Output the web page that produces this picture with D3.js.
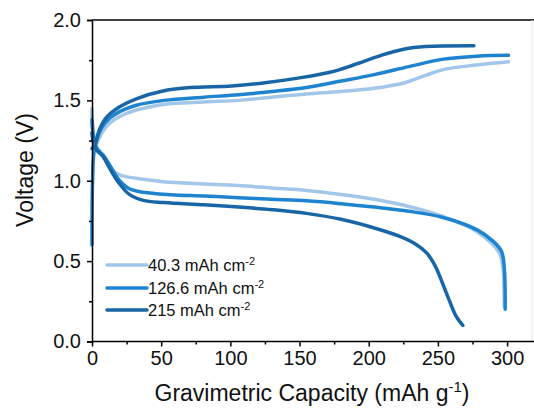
<!DOCTYPE html>
<html>
<head>
<meta charset="utf-8">
<script src="https://cdn.jsdelivr.net/npm/d3@7"></script>
<style>
  body { margin: 0; background: #fff; }
  text { font-family: Arial, "Liberation Sans", sans-serif; }
</style>
</head>
<body>
<div id="chart"></div>
<script>
// series labels (areal capacity)
var seriesNames = ["40.3", "126.6", "215"];
var seriesColors = ["#a3c7e9", "#1f84d0", "#1866a6"];

// charge branches [capacity mAh/g, voltage V]
var chargeLight = [[0, 1.45], [0.6, 1.3], [2, 1.22], [5, 1.26], [8, 1.31], [13, 1.36], [20, 1.40], [32, 1.44], [52, 1.475], [81, 1.49],
  [106, 1.50], [130, 1.52], [155, 1.54], [180, 1.555], [204, 1.575], [226, 1.61], [241, 1.655], [253, 1.69], [278, 1.72], [301, 1.74]];
var chargeMedium = [[0, 0.6], [0.4, 1.0], [1.5, 1.18], [4, 1.27], [7, 1.33], [13, 1.39], [20, 1.43], [32, 1.47], [52, 1.50], [81, 1.52],
  [106, 1.535], [130, 1.555], [155, 1.58], [180, 1.62], [204, 1.66], [229, 1.71], [253, 1.755], [278, 1.775], [301, 1.78]];
var chargeDark = [[0, 1.2], [2, 1.22], [5, 1.31], [10, 1.39], [20, 1.46], [32, 1.51], [52, 1.56], [71, 1.58], [101, 1.59],
  [125, 1.61], [150, 1.64], [172, 1.675], [189, 1.72], [209, 1.78], [226, 1.82], [241, 1.835], [276, 1.84]];

// discharge branches
var dischargeLight = [[0, 1.42], [1, 1.3], [3.5, 1.21], [8, 1.16], [12, 1.10], [17, 1.05], [22, 1.03], [37, 1.01], [57, 0.99], [81, 0.98],
  [106, 0.97], [130, 0.955], [155, 0.94], [180, 0.915], [204, 0.885], [229, 0.84], [253, 0.78], [278, 0.685], [290, 0.60],
  [295, 0.54], [297, 0.455], [298, 0.22]];
var dischargeMedium = [[0, 1.38], [1, 1.28], [3.5, 1.2], [8, 1.16], [12, 1.11], [16, 1.05], [20, 1.0], [27, 0.95], [37, 0.928], [57, 0.913],
  [81, 0.905], [106, 0.895], [130, 0.885], [155, 0.875], [180, 0.857], [204, 0.836], [229, 0.81], [253, 0.773], [278, 0.696],
  [290, 0.623], [296, 0.56], [298, 0.455], [298.6, 0.2]];
var dischargeDark = [[0, 1.3], [1, 1.24], [3.5, 1.19], [8, 1.15], [12, 1.09], [16, 1.03], [20, 0.98], [27, 0.915], [37, 0.878], [52, 0.864],
  [81, 0.85], [106, 0.836], [130, 0.82], [155, 0.797], [180, 0.76], [204, 0.706], [222, 0.655], [234, 0.605], [242, 0.55],
  [248, 0.47], [253, 0.37], [258, 0.26], [263, 0.16], [268, 0.10]];

var xTicks = [0, 50, 100, 150, 200, 250, 300];
var xMinorTicks = [25, 75, 125, 175, 225, 275];
var yTicks = [0.0, 0.5, 1.0, 1.5, 2.0];
var yMinorTicks = [0.25, 0.75, 1.25, 1.75];

drawChart();

function drawChart() {
  var w = 534, h = 412;
  var mLeft = 92, mRight = 532, mTop = 20, mBottom = 341.5;

  var svg = d3.select("#chart").append("svg")
    .attr("width", w)
    .attr("height", h);

  var x = d3.scaleLinear().domain([0, 318]).range([mLeft, mRight]);
  var y = d3.scaleLinear().domain([0, 2]).range([mBottom, mTop]);

  // frame (top + faint right)
  svg.append("line").attr("x1", mLeft).attr("x2", w).attr("y1", mTop).attr("y2", mTop)
    .attr("stroke", "#000").attr("stroke-width", 1.5);
  svg.append("line").attr("x1", mRight).attr("x2", mRight).attr("y1", mTop).attr("y2", mBottom)
    .attr("stroke", "#e6e6e6").attr("stroke-width", 1);

  var line = d3.line()
    .x(function(d) { return x(d[0]); })
    .y(function(d) { return y(d[1]); })
    .curve(d3.curveCatmullRom.alpha(0.5));

  var curves = [
    [chargeLight, dischargeLight],
    [chargeMedium, dischargeMedium],
    [chargeDark, dischargeDark]
  ];

  curves.forEach(function(pair, i) {
    pair.forEach(function(data) {
      svg.append("path")
        .datum(data)
        .attr("d", line)
        .attr("fill", "none")
        .attr("stroke", seriesColors[i])
        .attr("stroke-width", 3.5)
        .attr("stroke-linecap", "round")
        .attr("stroke-linejoin", "round");
    });
  });

  // axes
  var xAxis = svg.append("g")
    .attr("transform", "translate(0," + mBottom + ")")
    .call(d3.axisBottom(x).tickValues(xTicks).tickSize(5).tickPadding(4).tickFormat(d3.format("d")));
  var xMinor = svg.append("g")
    .attr("transform", "translate(0," + mBottom + ")")
    .call(d3.axisBottom(x).tickValues(xMinorTicks).tickSize(3).tickFormat(""));

  var yAxis = svg.append("g")
    .attr("transform", "translate(" + mLeft + ",0)")
    .call(d3.axisLeft(y).tickValues(yTicks).tickSize(5).tickPadding(6).tickFormat(d3.format(".1f")));
  var yMinor = svg.append("g")
    .attr("transform", "translate(" + mLeft + ",0)")
    .call(d3.axisLeft(y).tickValues(yMinorTicks).tickSize(3).tickFormat(""));

  [xAxis, xMinor, yAxis, yMinor].forEach(function(g) {
    g.select(".domain").attr("stroke", "#000").attr("stroke-width", 1.5);
    g.selectAll(".tick line").attr("stroke", "#000").attr("stroke-width", 1.5);
    g.selectAll(".tick text").attr("font-size", 20).attr("fill", "#111")
      .style("font-family", "Arial, 'Liberation Sans', sans-serif");
  });
  xAxis.select(".domain").attr("d", "M" + mLeft + ",0H" + w);
  xMinor.select(".domain").remove();
  yMinor.select(".domain").remove();

  // axis titles
  var xt = svg.append("text")
    .attr("x", (mLeft + mRight) / 2)
    .attr("y", 401)
    .attr("text-anchor", "middle")
    .attr("font-size", 23)
    .attr("fill", "#111");
  xt.append("tspan").text("Gravimetric Capacity (mAh g");
  xt.append("tspan").attr("dy", -9).attr("font-size", 15).text("-1");
  xt.append("tspan").attr("dy", 9).text(")");

  svg.append("text")
    .attr("transform", "translate(33,170) rotate(-90)")
    .attr("text-anchor", "middle")
    .attr("font-size", 23)
    .attr("fill", "#111")
    .text("Voltage (V)");

  // legend
  var legendY = [265, 288, 310];
  seriesNames.forEach(function(name, i) {
    var g = svg.append("g").attr("transform", "translate(107," + legendY[i] + ")");
    g.append("line").attr("x1", 0).attr("x2", 40).attr("y1", 0).attr("y2", 0)
      .attr("stroke", seriesColors[i]).attr("stroke-width", 3.5).attr("stroke-linecap", "round");
    var t = g.append("text").attr("x", 41).attr("y", 6).attr("font-size", 16.5).attr("fill", "#111");
    t.append("tspan").text(name + " mAh cm");
    t.append("tspan").attr("dy", -6).attr("font-size", 11).text("-2");
  });
}
</script>
</body>
</html>
